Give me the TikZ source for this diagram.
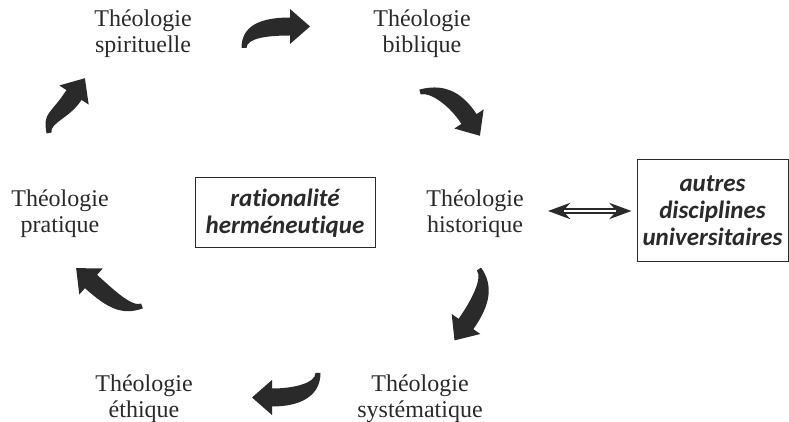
\documentclass[tikz,border=0pt]{standalone}
\usepackage{fontspec}
\setmainfont{Liberation Serif}
\newfontfamily\boxfont[Ligatures=NoCommon]{Carlito}
\usepackage{tikz}
\usetikzlibrary{calc,arrows.meta,positioning}

\definecolor{inkgray}{HTML}{2A2A2A}

% tail, tail angle, head base, head angle
\newcommand{\bendarrow}[4]{%
	\fill[arrowfill] ($(#1)+({#2+90}:2.5)$) .. controls +(#2:22) and +({#4+180}:30) .. ($(#3)+({#4+90}:9)$)
	-- ($(#3)+({#4+90}:17.5)$) -- ($(#3)+(#4:20)$) -- ($(#3)+({#4-90}:17.5)$) -- ($(#3)+({#4-90}:9)$)
	.. controls +({#4+180}:22) and +(#2:10) .. ($(#1)+({#2-90}:2.5)$) -- cycle;}

\begin{document}
\begin{tikzpicture}[x=0.5pt, y=0.5pt,
		lbl/.style={align=center, inner sep=0pt, text=inkgray, font=\fontsize{12}{13}\selectfont},
		boxnode/.style={draw=inkgray, line width=0.5pt, align=center, inner sep=0pt, text=inkgray,
			font=\boxfont\bfseries\itshape\fontsize{12.5}{13.6}\selectfont},
		arrowfill/.style={fill=inkgray},
		linkarrow/.style={inkgray, line width=2.6pt, {Stealth[length=11pt,width=8pt]}-{Stealth[length=11pt,width=8pt]}},
		linkcore/.style={white, line width=1.1pt}]
			\useasboundingbox (0,0) rectangle (789,-422);
			\node[lbl] (spir) at (143,-33.5) {Théologie\\spirituelle};
			\node[lbl] (bibl) at (422,-34) {Théologie\\biblique};
			\node[lbl] (prat) at (60,-214) {Théologie\\pratique};
			\node[lbl] (hist) at (475,-214) {Théologie\\historique};
			\node[lbl] (ethi) at (144,-399) {Théologie\\éthique};
			\node[lbl] (syst) at (420,-399) {Théologie\\systématique};
			
			\node[boxnode, minimum width=90pt, minimum height=35pt] (ratio) at (285,-213) {rationalité\\herméneutique};
			\node[boxnode, minimum width=75.5pt, minimum height=51pt] (autres) at (712.5,-211) {autres\\disciplines\\universitaires};
			
			\draw[linkarrow, shorten <=12pt, shorten >=2.5pt] (hist.east |- autres.west) -- (autres.west);
			\draw[linkcore, shorten <=20pt, shorten >=10.5pt] (hist.east |- autres.west) -- (autres.west);
			
			\bendarrow{244,-48}{90}{290,-26.5}{0}
			\bendarrow{420,-92}{15}{469,-119}{-57}
			\bendarrow{479,-269}{-55}{466,-324}{-125}
			\bendarrow{318,-373}{-90}{272,-397.5}{180}
			\bendarrow{142,-306}{200}{91,-281.5}{138}
			\bendarrow{49,-133}{100}{74,-95}{57}
		\end{tikzpicture}
\end{document}
